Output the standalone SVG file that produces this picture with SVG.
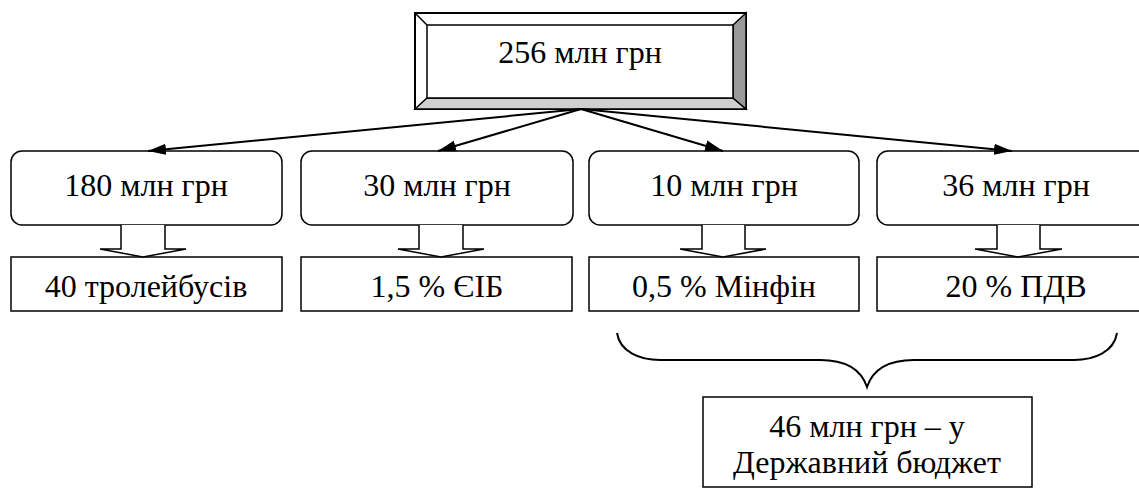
<svg xmlns="http://www.w3.org/2000/svg" width="1139" height="492" viewBox="0 0 1139 492">
<style>
text{font-family:"Liberation Serif","Times New Roman",serif;font-size:32px;fill:#000;text-anchor:middle}
.b{fill:#fff;stroke:#000;stroke-width:1.5}
.c{fill:none;stroke:#000;stroke-width:2}
.h{fill:#fff;stroke:#000;stroke-width:1.5;stroke-linejoin:miter}
</style>
<defs>
<marker id="ah" viewBox="0 0 18 12" refX="18" refY="6" markerWidth="18" markerHeight="12" markerUnits="userSpaceOnUse" orient="auto">
<path d="M0,0.5 L18,6 L0,11.5 z" fill="#000"/>
</marker>
</defs>
<rect width="1139" height="492" fill="#fff"/>
<g id="top">
<rect x="415" y="13" width="331" height="96" fill="#fff" stroke="#000" stroke-width="2"/>
<polygon points="415,109 746,109 733,98 427,98" fill="#d0d0d0" stroke="#000" stroke-width="1.5"/>
<polygon points="746,13 746,109 733,98 733,25" fill="#999" stroke="#000" stroke-width="1.5"/>
<rect x="427" y="25" width="306" height="73" fill="#fff" stroke="#000" stroke-width="1.5"/>
<line x1="415" y1="13" x2="427" y2="25" stroke="#000" stroke-width="1.5"/>
<text x="580" y="63">256 млн грн</text>
</g>
<g id="n1">
<rect class="b" x="11" y="151" width="271" height="74" rx="11"/>
<text x="146" y="196">180 млн грн</text>
</g>
<g id="n2">
<rect class="b" x="301" y="151" width="272" height="74" rx="11"/>
<text x="437" y="196">30 млн грн</text>
</g>
<g id="n3">
<rect class="b" x="589" y="151" width="270" height="74" rx="11"/>
<text x="724" y="196">10 млн грн</text>
</g>
<g id="n4">
<rect class="b" x="877" y="151" width="275" height="74" rx="11"/>
<text x="1016" y="196">36 млн грн</text>
</g>
<g id="m1">
<rect class="b" x="11" y="257" width="271" height="54"/>
<text x="146" y="297">40 тролейбусів</text>
</g>
<g id="m2">
<rect class="b" x="301" y="257" width="271" height="54"/>
<text x="437" y="297">1,5 % ЄІБ</text>
</g>
<g id="m3">
<rect class="b" x="589" y="257" width="270" height="54"/>
<text x="724" y="297">0,5 % Мінфін</text>
</g>
<g id="m4">
<rect class="b" x="877" y="257" width="275" height="54"/>
<text x="1016" y="297">20 % ПДВ</text>
</g>
<g id="budget">
<rect class="b" x="703" y="397" width="329" height="90"/>
<text x="867" y="437">46 млн грн – у</text>
<text x="867" y="473">Державний бюджет</text>
</g>
<g id="connectors">
<line class="c" x1="581" y1="109" x2="148" y2="151" marker-end="url(#ah)"/>
<line class="c" x1="581" y1="109" x2="438" y2="151" marker-end="url(#ah)"/>
<line class="c" x1="581" y1="109" x2="723" y2="151" marker-end="url(#ah)"/>
<line class="c" x1="581" y1="109" x2="1012" y2="151" marker-end="url(#ah)"/>
<polyline class="h" points="121,225 121,249 100,249 143,257 186,249 165,249 165,225"/>
<polyline class="h" points="419,225 419,249 398,249 441,257 484,249 463,249 463,225"/>
<polyline class="h" points="702,225 702,249 680,249 723,257 766,249 745,249 745,225"/>
<polyline class="h" points="997,225 997,249 975,249 1018,257 1062,249 1040,249 1040,225"/>
<path class="c" d="M617,333 C620,352 640,360 660,360 L820,360 C850,360 862,372 867,387 C872,372 884,360 914,360 L1074,360 C1094,360 1114,352 1117,333"/>
</g>
</svg>
